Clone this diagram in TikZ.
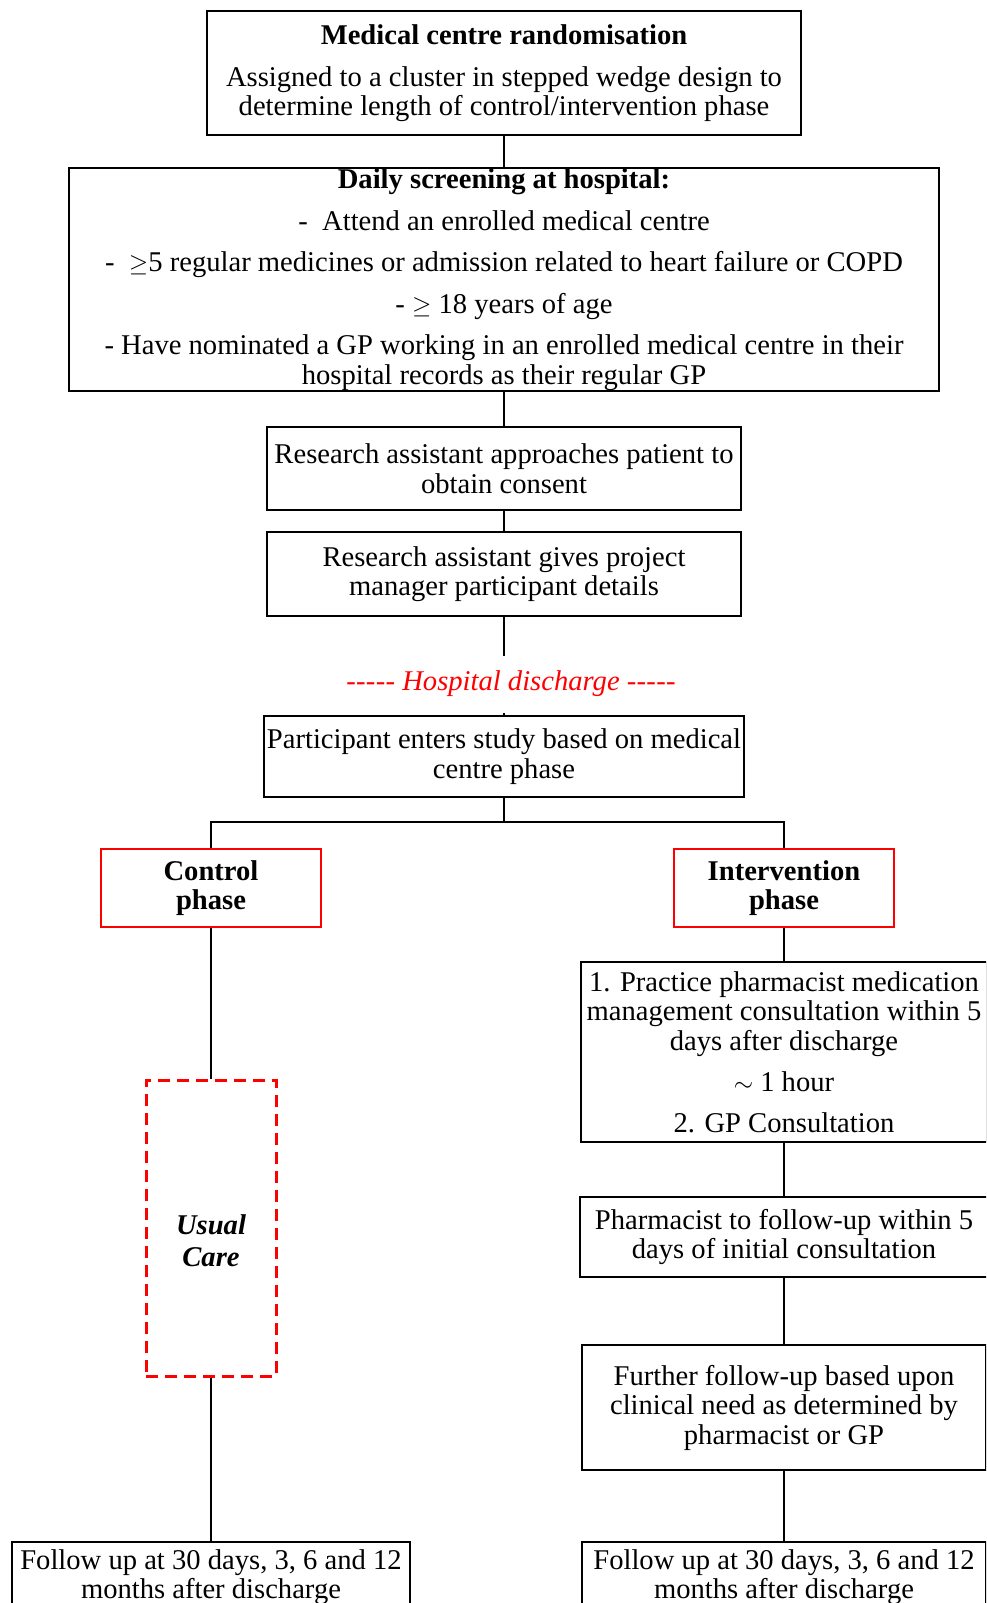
\documentclass[tikz,border=0pt]{standalone}
\usepackage{fontspec}
\setmainfont{Liberation Serif}
\newcommand\mainsize{\fontsize{28.6}{29.5}\selectfont}
\newcommand\fivedash{-\kern0.3pt-\kern0.3pt-\kern0.3pt-\kern0.3pt-}
\definecolor{rd}{RGB}{255,0,0}
\tikzset{
  box/.style={draw, line width=1.6pt, inner sep=0pt, align=center, font=\mainsize},
  redbox/.style={box, draw=rd},
  dashbox/.style={draw=rd, line width=3pt, dash pattern=on 12pt off 7pt, inner sep=0pt},
  plaintext/.style={inner sep=0pt, align=center, font=\mainsize},
  conn/.style={line width=1.4pt}
}
\begin{document}
\begin{tikzpicture}[x=1pt,y=1pt]
\useasboundingbox (0,0) rectangle (986,-1603);
\clip (0,0) rectangle (986,-1603);
\fill[white] (0,0) rectangle (986,-1603);

\node[box, minimum width=594, minimum height=124] (b1) at (504,-73)
  {\textbf{Medical centre randomisation}\\[12.5pt]
   Assigned to a cluster in stepped wedge design to\\
   determine length of control/intervention phase};

\node[box, minimum width=870, minimum height=223] (b2) at (504,-279.5)
  {\textbf{Daily screening at hospital:}\\[12pt]
   -\ \ Attend an enrolled medical centre\\[12pt]
   -\ \ $\geq$5 regular medicines or admission related to heart failure or COPD\\[12pt]
   - $\geq$ 18 years of age\\[12pt]
   - Have nominated a GP working in an enrolled medical centre in their\\
   hospital records as their regular GP};

\node[box, minimum width=474, minimum height=83] (b3) at (504,-468.5)
  {Research assistant approaches patient to\\ obtain consent};

\node[box, minimum width=474, minimum height=84] (b4) at (504,-574)
  {Research assistant gives project\\ manager participant details};

\node[plaintext, text=rd] (hd) at (511,-684)
  {\fivedash\ \textit{Hospital discharge}\ \fivedash};

\node[box, minimum width=480, minimum height=81] (b5) at (504,-756.5)
  {Participant enters study based on medical\\ centre phase};

\node[redbox, minimum width=220, minimum height=78] (ctrl) at (211,-888)
  {\textbf{Control}\\ \textbf{phase}};
\node[redbox, minimum width=220, minimum height=78] (int) at (784,-888)
  {\textbf{Intervention}\\ \textbf{phase}};

\node[dashbox, minimum width=130, minimum height=296] (uc) at (211,-1228) {};
\node[plaintext] (uct) at (211,-1240.5)
  {\textbf{\textit{Usual}}\\[3pt] \textbf{\textit{Care}}};

\node[box, minimum width=406, minimum height=180] (i1) at (784,-1052)
  {1. Practice pharmacist medication\\
   management consultation within 5\\
   days after discharge\\[11.5pt]
   $\sim$ 1 hour\\[11.5pt]
   2. GP Consultation};

\node[box, minimum width=408, minimum height=80] (i2) at (784,-1237)
  {Pharmacist to follow-up within 5\\ days of initial consultation};

\node[box, minimum width=404, minimum height=125] (i3) at (784,-1407.5)
  {Further follow-up based upon\\ clinical need as determined by\\ pharmacist or GP};

\node[box, minimum width=398, minimum height=70] (fl) at (211,-1577)
  {Follow up at 30 days, 3, 6 and 12\\ months after discharge};
\node[box, minimum width=404, minimum height=70] (fr) at (784,-1577)
  {Follow up at 30 days, 3, 6 and 12\\ months after discharge};

\coordinate (d1) at (504,-656);
\coordinate (d2) at (504,-713);
\coordinate (br) at (504,-822);

\draw[conn] (b1) -- (b2);
\draw[conn] (b2) -- (b3);
\draw[conn] (b3) -- (b4);
\draw[conn] (b4) -- (d1);
\draw[conn] (d2) -- (b5);
\draw[conn] (b5) -- (br);
\draw[conn] (br) -| (ctrl);
\draw[conn] (br) -| (int);
\draw[conn] (ctrl) -- (uc);
\draw[conn] (uc) -- (fl);
\draw[conn] (int) -- (i1);
\draw[conn] (i1) -- (i2);
\draw[conn] (i2) -- (i3);
\draw[conn] (i3) -- (fr);
\end{tikzpicture}
\end{document}
